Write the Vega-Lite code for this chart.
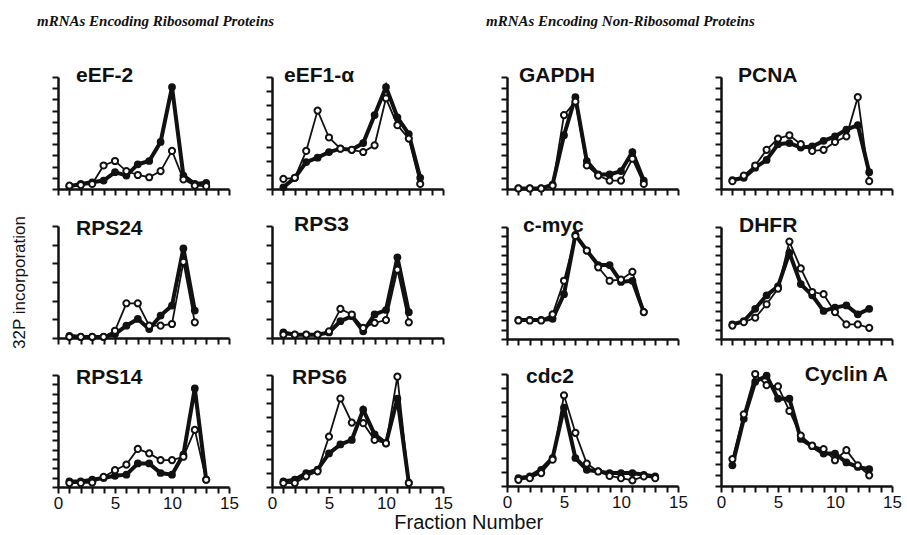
{
  "$schema": "https://vega.github.io/schema/vega-lite/v6.json",
  "padding": {"left": 9, "top": 14, "right": 0, "bottom": 0},
  "background": "white",
  "title": {"text": "Fraction Number", "orient": "bottom", "anchor": "middle", "frame": "bounds", "baseline": "top", "font": "Liberation Sans", "fontSize": 20, "fontWeight": "normal", "fontStyle": "normal", "color": "#111", "offset": 2, "dx": 13},
  "datasets": {
    "d": [
      {"gene":"eEF-2","fraction":1,"filled":0.25,"open":0.3},
      {"gene":"eEF-2","fraction":2,"filled":0.45,"open":0.35},
      {"gene":"eEF-2","fraction":3,"filled":0.6,"open":0.45},
      {"gene":"eEF-2","fraction":4,"filled":0.75,"open":2.1},
      {"gene":"eEF-2","fraction":5,"filled":1.5,"open":2.5},
      {"gene":"eEF-2","fraction":6,"filled":1.2,"open":1.6},
      {"gene":"eEF-2","fraction":7,"filled":2.2,"open":1.25},
      {"gene":"eEF-2","fraction":8,"filled":2.5,"open":1.05},
      {"gene":"eEF-2","fraction":9,"filled":4.2,"open":1.6},
      {"gene":"eEF-2","fraction":10,"filled":9.1,"open":3.4},
      {"gene":"eEF-2","fraction":11,"filled":1.2,"open":0.85},
      {"gene":"eEF-2","fraction":12,"filled":0.45,"open":0.3},
      {"gene":"eEF-2","fraction":13,"filled":0.55,"open":0.25},

      {"gene":"eEF1-α","fraction":1,"filled":0.15,"open":0.9},
      {"gene":"eEF1-α","fraction":2,"filled":1.0,"open":1.0},
      {"gene":"eEF1-α","fraction":3,"filled":2.4,"open":3.4},
      {"gene":"eEF1-α","fraction":4,"filled":2.8,"open":7.0},
      {"gene":"eEF1-α","fraction":5,"filled":3.3,"open":4.6},
      {"gene":"eEF1-α","fraction":6,"filled":3.6,"open":3.6},
      {"gene":"eEF1-α","fraction":7,"filled":3.5,"open":3.5},
      {"gene":"eEF1-α","fraction":8,"filled":4.1,"open":3.3},
      {"gene":"eEF1-α","fraction":9,"filled":6.6,"open":3.9},
      {"gene":"eEF1-α","fraction":10,"filled":9.1,"open":8.1},
      {"gene":"eEF1-α","fraction":11,"filled":6.4,"open":5.7},
      {"gene":"eEF1-α","fraction":12,"filled":4.9,"open":4.5},
      {"gene":"eEF1-α","fraction":13,"filled":1.0,"open":0.45},

      {"gene":"RPS24","fraction":1,"filled":0.2,"open":0.1},
      {"gene":"RPS24","fraction":2,"filled":0.1,"open":0.1},
      {"gene":"RPS24","fraction":3,"filled":0.1,"open":0.1},
      {"gene":"RPS24","fraction":4,"filled":0.1,"open":0.1},
      {"gene":"RPS24","fraction":5,"filled":0.35,"open":0.65},
      {"gene":"RPS24","fraction":6,"filled":1.1,"open":3.1},
      {"gene":"RPS24","fraction":7,"filled":1.7,"open":3.1},
      {"gene":"RPS24","fraction":8,"filled":0.8,"open":1.1},
      {"gene":"RPS24","fraction":9,"filled":2.0,"open":1.1},
      {"gene":"RPS24","fraction":10,"filled":2.9,"open":1.25},
      {"gene":"RPS24","fraction":11,"filled":8.0,"open":6.8},
      {"gene":"RPS24","fraction":12,"filled":2.45,"open":1.4},

      {"gene":"RPS3","fraction":1,"filled":0.5,"open":0.3},
      {"gene":"RPS3","fraction":2,"filled":0.3,"open":0.3},
      {"gene":"RPS3","fraction":3,"filled":0.3,"open":0.3},
      {"gene":"RPS3","fraction":4,"filled":0.3,"open":0.3},
      {"gene":"RPS3","fraction":5,"filled":0.5,"open":0.6},
      {"gene":"RPS3","fraction":6,"filled":1.5,"open":2.6},
      {"gene":"RPS3","fraction":7,"filled":1.95,"open":2.1},
      {"gene":"RPS3","fraction":8,"filled":0.6,"open":0.9},
      {"gene":"RPS3","fraction":9,"filled":2.1,"open":1.35},
      {"gene":"RPS3","fraction":10,"filled":2.5,"open":1.6},
      {"gene":"RPS3","fraction":11,"filled":7.2,"open":6.1},
      {"gene":"RPS3","fraction":12,"filled":2.3,"open":1.4},

      {"gene":"RPS14","fraction":1,"filled":0.5,"open":0.35},
      {"gene":"RPS14","fraction":2,"filled":0.5,"open":0.35},
      {"gene":"RPS14","fraction":3,"filled":0.65,"open":0.4},
      {"gene":"RPS14","fraction":4,"filled":0.8,"open":0.9},
      {"gene":"RPS14","fraction":5,"filled":1.0,"open":1.5},
      {"gene":"RPS14","fraction":6,"filled":1.1,"open":2.0},
      {"gene":"RPS14","fraction":7,"filled":2.1,"open":3.4},
      {"gene":"RPS14","fraction":8,"filled":2.1,"open":3.0},
      {"gene":"RPS14","fraction":9,"filled":1.25,"open":2.4},
      {"gene":"RPS14","fraction":10,"filled":1.1,"open":2.4},
      {"gene":"RPS14","fraction":11,"filled":2.9,"open":2.7},
      {"gene":"RPS14","fraction":12,"filled":8.8,"open":5.1},
      {"gene":"RPS14","fraction":13,"filled":0.65,"open":0.65},

      {"gene":"RPS6","fraction":1,"filled":0.5,"open":0.35},
      {"gene":"RPS6","fraction":2,"filled":0.65,"open":0.35},
      {"gene":"RPS6","fraction":3,"filled":1.25,"open":0.95},
      {"gene":"RPS6","fraction":4,"filled":1.55,"open":1.4},
      {"gene":"RPS6","fraction":5,"filled":3.0,"open":4.5},
      {"gene":"RPS6","fraction":6,"filled":3.8,"open":7.9},
      {"gene":"RPS6","fraction":7,"filled":4.2,"open":5.75},
      {"gene":"RPS6","fraction":8,"filled":6.9,"open":5.7},
      {"gene":"RPS6","fraction":9,"filled":4.7,"open":4.2},
      {"gene":"RPS6","fraction":10,"filled":3.9,"open":3.9},
      {"gene":"RPS6","fraction":11,"filled":7.9,"open":9.85},
      {"gene":"RPS6","fraction":12,"filled":0.4,"open":0.35},

      {"gene":"GAPDH","fraction":1,"filled":0.05,"open":0.05},
      {"gene":"GAPDH","fraction":2,"filled":0.05,"open":0.05},
      {"gene":"GAPDH","fraction":3,"filled":0.05,"open":0.05},
      {"gene":"GAPDH","fraction":4,"filled":0.4,"open":0.3},
      {"gene":"GAPDH","fraction":5,"filled":4.8,"open":6.6},
      {"gene":"GAPDH","fraction":6,"filled":8.2,"open":7.8},
      {"gene":"GAPDH","fraction":7,"filled":2.5,"open":2.1},
      {"gene":"GAPDH","fraction":8,"filled":1.3,"open":1.2},
      {"gene":"GAPDH","fraction":9,"filled":1.3,"open":0.75},
      {"gene":"GAPDH","fraction":10,"filled":1.6,"open":0.75},
      {"gene":"GAPDH","fraction":11,"filled":3.3,"open":2.7},
      {"gene":"GAPDH","fraction":12,"filled":0.75,"open":0.45},

      {"gene":"PCNA","fraction":1,"filled":0.8,"open":0.7},
      {"gene":"PCNA","fraction":2,"filled":1.0,"open":1.2},
      {"gene":"PCNA","fraction":3,"filled":1.9,"open":2.1},
      {"gene":"PCNA","fraction":4,"filled":2.6,"open":3.5},
      {"gene":"PCNA","fraction":5,"filled":4.0,"open":4.5},
      {"gene":"PCNA","fraction":6,"filled":4.1,"open":4.8},
      {"gene":"PCNA","fraction":7,"filled":3.7,"open":4.0},
      {"gene":"PCNA","fraction":8,"filled":3.8,"open":3.4},
      {"gene":"PCNA","fraction":9,"filled":4.3,"open":3.5},
      {"gene":"PCNA","fraction":10,"filled":4.7,"open":4.2},
      {"gene":"PCNA","fraction":11,"filled":5.3,"open":4.7},
      {"gene":"PCNA","fraction":12,"filled":5.7,"open":8.2},
      {"gene":"PCNA","fraction":13,"filled":1.5,"open":0.7},

      {"gene":"c-myc","fraction":1,"filled":1.7,"open":1.65},
      {"gene":"c-myc","fraction":2,"filled":1.7,"open":1.65},
      {"gene":"c-myc","fraction":3,"filled":1.7,"open":1.65},
      {"gene":"c-myc","fraction":4,"filled":1.8,"open":2.2},
      {"gene":"c-myc","fraction":5,"filled":4.0,"open":5.2},
      {"gene":"c-myc","fraction":6,"filled":9.3,"open":9.2},
      {"gene":"c-myc","fraction":7,"filled":7.9,"open":7.9},
      {"gene":"c-myc","fraction":8,"filled":6.6,"open":6.4},
      {"gene":"c-myc","fraction":9,"filled":6.6,"open":5.2},
      {"gene":"c-myc","fraction":10,"filled":5.1,"open":5.3},
      {"gene":"c-myc","fraction":11,"filled":5.2,"open":6.0},
      {"gene":"c-myc","fraction":12,"filled":2.4,"open":2.4},

      {"gene":"DHFR","fraction":1,"filled":1.3,"open":1.2},
      {"gene":"DHFR","fraction":2,"filled":1.6,"open":1.5},
      {"gene":"DHFR","fraction":3,"filled":2.7,"open":1.9},
      {"gene":"DHFR","fraction":4,"filled":3.9,"open":3.1},
      {"gene":"DHFR","fraction":5,"filled":4.7,"open":4.5},
      {"gene":"DHFR","fraction":6,"filled":7.7,"open":8.7},
      {"gene":"DHFR","fraction":7,"filled":4.9,"open":6.3},
      {"gene":"DHFR","fraction":8,"filled":3.9,"open":4.2},
      {"gene":"DHFR","fraction":9,"filled":2.5,"open":4.0},
      {"gene":"DHFR","fraction":10,"filled":2.8,"open":2.4},
      {"gene":"DHFR","fraction":11,"filled":3.0,"open":1.3},
      {"gene":"DHFR","fraction":12,"filled":2.2,"open":1.3},
      {"gene":"DHFR","fraction":13,"filled":2.7,"open":1.0},

      {"gene":"cdc2","fraction":1,"filled":0.7,"open":0.55},
      {"gene":"cdc2","fraction":2,"filled":0.85,"open":0.7},
      {"gene":"cdc2","fraction":3,"filled":1.45,"open":1.15},
      {"gene":"cdc2","fraction":4,"filled":2.5,"open":2.35},
      {"gene":"cdc2","fraction":5,"filled":7.0,"open":8.1},
      {"gene":"cdc2","fraction":6,"filled":2.5,"open":4.75},
      {"gene":"cdc2","fraction":7,"filled":1.45,"open":2.0},
      {"gene":"cdc2","fraction":8,"filled":1.3,"open":1.3},
      {"gene":"cdc2","fraction":9,"filled":1.15,"open":0.9},
      {"gene":"cdc2","fraction":10,"filled":1.15,"open":0.7},
      {"gene":"cdc2","fraction":11,"filled":1.15,"open":0.5},
      {"gene":"cdc2","fraction":12,"filled":1.0,"open":0.85},
      {"gene":"cdc2","fraction":13,"filled":0.85,"open":0.7},

      {"gene":"Cyclin A","fraction":1,"filled":1.85,"open":2.4},
      {"gene":"Cyclin A","fraction":2,"filled":6.0,"open":6.4},
      {"gene":"Cyclin A","fraction":3,"filled":9.3,"open":10.0},
      {"gene":"Cyclin A","fraction":4,"filled":9.85,"open":9.0},
      {"gene":"Cyclin A","fraction":5,"filled":7.8,"open":8.9},
      {"gene":"Cyclin A","fraction":6,"filled":7.8,"open":6.7},
      {"gene":"Cyclin A","fraction":7,"filled":4.2,"open":4.5},
      {"gene":"Cyclin A","fraction":8,"filled":3.55,"open":3.6},
      {"gene":"Cyclin A","fraction":9,"filled":2.9,"open":3.3},
      {"gene":"Cyclin A","fraction":10,"filled":2.9,"open":2.3},
      {"gene":"Cyclin A","fraction":11,"filled":2.1,"open":3.2},
      {"gene":"Cyclin A","fraction":12,"filled":1.7,"open":1.85},
      {"gene":"Cyclin A","fraction":13,"filled":1.5,"open":0.95}
    ]
  },
  "spacing": 33,
  "hconcat": [
    {
      "title": {"text": "mRNAs Encoding Ribosomal Proteins", "orient": "top", "anchor": "start", "frame": "bounds", "baseline": "bottom", "font": "Liberation Serif", "fontStyle": "italic", "fontWeight": "bold", "fontSize": 15, "dx": 27, "offset": 21},
      "columns": 2,
      "spacing": {"row": 18, "column": 26},
      "concat": [
        {
          "width": 171, "height": 112,
          "title": {"text": "eEF-2", "dx": 18},
          "data": {"name": "d"},
          "transform": [{"filter": "datum.gene === 'eEF-2'"}, {"fold": ["filled", "open"], "as": ["series", "value"]}],
          "encoding": {
            "x": {"field": "fraction", "type": "quantitative", "scale": {"domain": [0, 15]}, "axis": {"title": null, "labels": false}},
            "y": {"field": "value", "type": "quantitative", "scale": {"domain": [0, 10]}, "axis": {"title": null, "labels": false, "values": [0,1,2,3,4,5,6,7,8,9,10]}}
          },
          "layer": [
            {"transform": [{"filter": "datum.series === 'filled'"}], "mark": {"type": "line", "strokeWidth": 4, "color": "#111"}},
            {"transform": [{"filter": "datum.series === 'filled'"}], "mark": {"type": "point", "filled": true, "size": 60, "color": "#111", "opacity": 1}},
            {"transform": [{"filter": "datum.series === 'open'"}], "mark": {"type": "line", "strokeWidth": 1.8, "color": "#111"}},
            {"transform": [{"filter": "datum.series === 'open'"}], "mark": {"type": "point", "filled": true, "fill": "white", "stroke": "#111", "strokeWidth": 2, "size": 38, "opacity": 1}}
          ]
        },
        {
          "width": 171, "height": 112,
          "title": {"text": "eEF1-α", "dx": 12},
          "data": {"name": "d"},
          "transform": [{"filter": "datum.gene === 'eEF1-α'"}, {"fold": ["filled", "open"], "as": ["series", "value"]}],
          "encoding": {
            "x": {"field": "fraction", "type": "quantitative", "scale": {"domain": [0, 15]}, "axis": {"title": null, "labels": false}},
            "y": {"field": "value", "type": "quantitative", "scale": {"domain": [0, 10]}, "axis": {"title": null, "labels": false, "values": [0,1.25,2.5,3.75,5,6.25,7.5,8.75,10]}}
          },
          "layer": [
            {"transform": [{"filter": "datum.series === 'filled'"}], "mark": {"type": "line", "strokeWidth": 4, "color": "#111"}},
            {"transform": [{"filter": "datum.series === 'filled'"}], "mark": {"type": "point", "filled": true, "size": 60, "color": "#111", "opacity": 1}},
            {"transform": [{"filter": "datum.series === 'open'"}], "mark": {"type": "line", "strokeWidth": 1.8, "color": "#111"}},
            {"transform": [{"filter": "datum.series === 'open'"}], "mark": {"type": "point", "filled": true, "fill": "white", "stroke": "#111", "strokeWidth": 2, "size": 38, "opacity": 1}}
          ]
        },
        {
          "width": 171, "height": 112,
          "title": {"text": "RPS24", "dx": 18},
          "data": {"name": "d"},
          "transform": [{"filter": "datum.gene === 'RPS24'"}, {"fold": ["filled", "open"], "as": ["series", "value"]}],
          "encoding": {
            "x": {"field": "fraction", "type": "quantitative", "scale": {"domain": [0, 15]}, "axis": {"title": null, "labels": false}},
            "y": {"field": "value", "type": "quantitative", "scale": {"domain": [0, 10]}, "axis": {"title": "32P incorporation", "titlePadding": 23, "titleFontSize": 17, "titleColor": "#111", "labels": false, "values": [0,1.667,3.333,5,6.667,8.333,10]}}
          },
          "layer": [
            {"transform": [{"filter": "datum.series === 'filled'"}], "mark": {"type": "line", "strokeWidth": 4, "color": "#111"}},
            {"transform": [{"filter": "datum.series === 'filled'"}], "mark": {"type": "point", "filled": true, "size": 60, "color": "#111", "opacity": 1}},
            {"transform": [{"filter": "datum.series === 'open'"}], "mark": {"type": "line", "strokeWidth": 1.8, "color": "#111"}},
            {"transform": [{"filter": "datum.series === 'open'"}], "mark": {"type": "point", "filled": true, "fill": "white", "stroke": "#111", "strokeWidth": 2, "size": 38, "opacity": 1}}
          ]
        },
        {
          "width": 171, "height": 112,
          "title": {"text": "RPS3", "dx": 22},
          "data": {"name": "d"},
          "transform": [{"filter": "datum.gene === 'RPS3'"}, {"fold": ["filled", "open"], "as": ["series", "value"]}],
          "encoding": {
            "x": {"field": "fraction", "type": "quantitative", "scale": {"domain": [0, 15]}, "axis": {"title": null, "labels": false}},
            "y": {"field": "value", "type": "quantitative", "scale": {"domain": [0, 10]}, "axis": {"title": null, "labels": false, "values": [0,1.667,3.333,5,6.667,8.333,10]}}
          },
          "layer": [
            {"transform": [{"filter": "datum.series === 'filled'"}], "mark": {"type": "line", "strokeWidth": 4, "color": "#111"}},
            {"transform": [{"filter": "datum.series === 'filled'"}], "mark": {"type": "point", "filled": true, "size": 60, "color": "#111", "opacity": 1}},
            {"transform": [{"filter": "datum.series === 'open'"}], "mark": {"type": "line", "strokeWidth": 1.8, "color": "#111"}},
            {"transform": [{"filter": "datum.series === 'open'"}], "mark": {"type": "point", "filled": true, "fill": "white", "stroke": "#111", "strokeWidth": 2, "size": 38, "opacity": 1}}
          ]
        },
        {
          "width": 171, "height": 112,
          "title": {"text": "RPS14", "dx": 18, "offset": -144},
          "data": {"name": "d"},
          "transform": [{"filter": "datum.gene === 'RPS14'"}, {"fold": ["filled", "open"], "as": ["series", "value"]}],
          "encoding": {
            "x": {"field": "fraction", "type": "quantitative", "scale": {"domain": [0, 15]}, "axis": {"title": null, "labelExpr": "datum.value % 5 === 0 ? datum.label : ''"}},
            "y": {"field": "value", "type": "quantitative", "scale": {"domain": [0, 10]}, "axis": {"title": null, "labels": false, "values": [0,0.833,1.667,2.5,3.333,4.167,5,5.833,6.667,7.5,8.333,9.167,10]}}
          },
          "layer": [
            {"transform": [{"filter": "datum.series === 'filled'"}], "mark": {"type": "line", "strokeWidth": 4, "color": "#111"}},
            {"transform": [{"filter": "datum.series === 'filled'"}], "mark": {"type": "point", "filled": true, "size": 60, "color": "#111", "opacity": 1}},
            {"transform": [{"filter": "datum.series === 'open'"}], "mark": {"type": "line", "strokeWidth": 1.8, "color": "#111"}},
            {"transform": [{"filter": "datum.series === 'open'"}], "mark": {"type": "point", "filled": true, "fill": "white", "stroke": "#111", "strokeWidth": 2, "size": 38, "opacity": 1}}
          ]
        },
        {
          "width": 171, "height": 112,
          "title": {"text": "RPS6", "dx": 20, "offset": -144},
          "data": {"name": "d"},
          "transform": [{"filter": "datum.gene === 'RPS6'"}, {"fold": ["filled", "open"], "as": ["series", "value"]}],
          "encoding": {
            "x": {"field": "fraction", "type": "quantitative", "scale": {"domain": [0, 15]}, "axis": {"title": null, "labelExpr": "datum.value % 5 === 0 ? datum.label : ''"}},
            "y": {"field": "value", "type": "quantitative", "scale": {"domain": [0, 10]}, "axis": {"title": null, "labels": false, "values": [0,1.25,2.5,3.75,5,6.25,7.5,8.75,10]}}
          },
          "layer": [
            {"transform": [{"filter": "datum.series === 'filled'"}], "mark": {"type": "line", "strokeWidth": 4, "color": "#111"}},
            {"transform": [{"filter": "datum.series === 'filled'"}], "mark": {"type": "point", "filled": true, "size": 60, "color": "#111", "opacity": 1}},
            {"transform": [{"filter": "datum.series === 'open'"}], "mark": {"type": "line", "strokeWidth": 1.8, "color": "#111"}},
            {"transform": [{"filter": "datum.series === 'open'"}], "mark": {"type": "point", "filled": true, "fill": "white", "stroke": "#111", "strokeWidth": 2, "size": 38, "opacity": 1}}
          ]
        }
      ]
    },
    {
      "title": {"text": "mRNAs Encoding Non-Ribosomal Proteins", "orient": "top", "anchor": "start", "frame": "bounds", "baseline": "bottom", "font": "Liberation Serif", "fontStyle": "italic", "fontWeight": "bold", "fontSize": 15, "dx": -14, "offset": 21},
      "columns": 2,
      "spacing": {"row": 18, "column": 26},
      "concat": [
        {
          "width": 171, "height": 112,
          "title": {"text": "GAPDH", "dx": 12},
          "data": {"name": "d"},
          "transform": [{"filter": "datum.gene === 'GAPDH'"}, {"fold": ["filled", "open"], "as": ["series", "value"]}],
          "encoding": {
            "x": {"field": "fraction", "type": "quantitative", "scale": {"domain": [0, 15]}, "axis": {"title": null, "labels": false}},
            "y": {"field": "value", "type": "quantitative", "scale": {"domain": [0, 10]}, "axis": {"title": null, "labels": false, "values": [0,1,2,3,4,5,6,7,8,9,10]}}
          },
          "layer": [
            {"transform": [{"filter": "datum.series === 'filled'"}], "mark": {"type": "line", "strokeWidth": 4, "color": "#111"}},
            {"transform": [{"filter": "datum.series === 'filled'"}], "mark": {"type": "point", "filled": true, "size": 60, "color": "#111", "opacity": 1}},
            {"transform": [{"filter": "datum.series === 'open'"}], "mark": {"type": "line", "strokeWidth": 1.8, "color": "#111"}},
            {"transform": [{"filter": "datum.series === 'open'"}], "mark": {"type": "point", "filled": true, "fill": "white", "stroke": "#111", "strokeWidth": 2, "size": 38, "opacity": 1}}
          ]
        },
        {
          "width": 171, "height": 112,
          "title": {"text": "PCNA", "dx": 17},
          "data": {"name": "d"},
          "transform": [{"filter": "datum.gene === 'PCNA'"}, {"fold": ["filled", "open"], "as": ["series", "value"]}],
          "encoding": {
            "x": {"field": "fraction", "type": "quantitative", "scale": {"domain": [0, 15]}, "axis": {"title": null, "labels": false}},
            "y": {"field": "value", "type": "quantitative", "scale": {"domain": [0, 10]}, "axis": {"title": null, "labels": false, "values": [0,1,2,3,4,5,6,7,8,9,10]}}
          },
          "layer": [
            {"transform": [{"filter": "datum.series === 'filled'"}], "mark": {"type": "line", "strokeWidth": 4, "color": "#111"}},
            {"transform": [{"filter": "datum.series === 'filled'"}], "mark": {"type": "point", "filled": true, "size": 60, "color": "#111", "opacity": 1}},
            {"transform": [{"filter": "datum.series === 'open'"}], "mark": {"type": "line", "strokeWidth": 1.8, "color": "#111"}},
            {"transform": [{"filter": "datum.series === 'open'"}], "mark": {"type": "point", "filled": true, "fill": "white", "stroke": "#111", "strokeWidth": 2, "size": 38, "opacity": 1}}
          ]
        },
        {
          "width": 171, "height": 112,
          "title": {"text": "c-myc", "dx": 16},
          "data": {"name": "d"},
          "transform": [{"filter": "datum.gene === 'c-myc'"}, {"fold": ["filled", "open"], "as": ["series", "value"]}],
          "encoding": {
            "x": {"field": "fraction", "type": "quantitative", "scale": {"domain": [0, 15]}, "axis": {"title": null, "labels": false}},
            "y": {"field": "value", "type": "quantitative", "scale": {"domain": [0, 10]}, "axis": {"title": null, "labels": false, "values": [0,0.833,1.667,2.5,3.333,4.167,5,5.833,6.667,7.5,8.333,9.167,10]}}
          },
          "layer": [
            {"transform": [{"filter": "datum.series === 'filled'"}], "mark": {"type": "line", "strokeWidth": 4, "color": "#111"}},
            {"transform": [{"filter": "datum.series === 'filled'"}], "mark": {"type": "point", "filled": true, "size": 60, "color": "#111", "opacity": 1}},
            {"transform": [{"filter": "datum.series === 'open'"}], "mark": {"type": "line", "strokeWidth": 1.8, "color": "#111"}},
            {"transform": [{"filter": "datum.series === 'open'"}], "mark": {"type": "point", "filled": true, "fill": "white", "stroke": "#111", "strokeWidth": 2, "size": 38, "opacity": 1}}
          ]
        },
        {
          "width": 171, "height": 112,
          "title": {"text": "DHFR", "dx": 18},
          "data": {"name": "d"},
          "transform": [{"filter": "datum.gene === 'DHFR'"}, {"fold": ["filled", "open"], "as": ["series", "value"]}],
          "encoding": {
            "x": {"field": "fraction", "type": "quantitative", "scale": {"domain": [0, 15]}, "axis": {"title": null, "labels": false}},
            "y": {"field": "value", "type": "quantitative", "scale": {"domain": [0, 10]}, "axis": {"title": null, "labels": false, "values": [0,0.833,1.667,2.5,3.333,4.167,5,5.833,6.667,7.5,8.333,9.167,10]}}
          },
          "layer": [
            {"transform": [{"filter": "datum.series === 'filled'"}], "mark": {"type": "line", "strokeWidth": 4, "color": "#111"}},
            {"transform": [{"filter": "datum.series === 'filled'"}], "mark": {"type": "point", "filled": true, "size": 60, "color": "#111", "opacity": 1}},
            {"transform": [{"filter": "datum.series === 'open'"}], "mark": {"type": "line", "strokeWidth": 1.8, "color": "#111"}},
            {"transform": [{"filter": "datum.series === 'open'"}], "mark": {"type": "point", "filled": true, "fill": "white", "stroke": "#111", "strokeWidth": 2, "size": 38, "opacity": 1}}
          ]
        },
        {
          "width": 171, "height": 112,
          "title": {"text": "cdc2", "dx": 19, "offset": -144},
          "data": {"name": "d"},
          "transform": [{"filter": "datum.gene === 'cdc2'"}, {"fold": ["filled", "open"], "as": ["series", "value"]}],
          "encoding": {
            "x": {"field": "fraction", "type": "quantitative", "scale": {"domain": [0, 15]}, "axis": {"title": null, "labelExpr": "datum.value % 5 === 0 ? datum.label : ''"}},
            "y": {"field": "value", "type": "quantitative", "scale": {"domain": [0, 10]}, "axis": {"title": null, "labels": false, "values": [0,1.25,2.5,3.75,5,6.25,7.5,8.75,10]}}
          },
          "layer": [
            {"transform": [{"filter": "datum.series === 'filled'"}], "mark": {"type": "line", "strokeWidth": 4, "color": "#111"}},
            {"transform": [{"filter": "datum.series === 'filled'"}], "mark": {"type": "point", "filled": true, "size": 60, "color": "#111", "opacity": 1}},
            {"transform": [{"filter": "datum.series === 'open'"}], "mark": {"type": "line", "strokeWidth": 1.8, "color": "#111"}},
            {"transform": [{"filter": "datum.series === 'open'"}], "mark": {"type": "point", "filled": true, "fill": "white", "stroke": "#111", "strokeWidth": 2, "size": 38, "opacity": 1}}
          ]
        },
        {
          "width": 171, "height": 112,
          "title": {"text": "Cyclin A", "anchor": "end", "dx": -4, "offset": -146},
          "data": {"name": "d"},
          "transform": [{"filter": "datum.gene === 'Cyclin A'"}, {"fold": ["filled", "open"], "as": ["series", "value"]}],
          "encoding": {
            "x": {"field": "fraction", "type": "quantitative", "scale": {"domain": [0, 15]}, "axis": {"title": null, "labelExpr": "datum.value % 5 === 0 ? datum.label : ''"}},
            "y": {"field": "value", "type": "quantitative", "scale": {"domain": [0, 10]}, "axis": {"title": null, "labels": false, "values": [0,1,2,3,4,5,6,7,8,9,10]}}
          },
          "layer": [
            {"transform": [{"filter": "datum.series === 'filled'"}], "mark": {"type": "line", "strokeWidth": 4, "color": "#111"}},
            {"transform": [{"filter": "datum.series === 'filled'"}], "mark": {"type": "point", "filled": true, "size": 60, "color": "#111", "opacity": 1}},
            {"transform": [{"filter": "datum.series === 'open'"}], "mark": {"type": "line", "strokeWidth": 1.8, "color": "#111"}},
            {"transform": [{"filter": "datum.series === 'open'"}], "mark": {"type": "point", "filled": true, "fill": "white", "stroke": "#111", "strokeWidth": 2, "size": 38, "opacity": 1}}
          ]
        }
      ]
    }
  ],
  "config": {
    "view": {"stroke": null},
    "title": {"font": "Liberation Sans", "fontWeight": "bold", "fontSize": 21, "color": "#111", "anchor": "start", "frame": "group", "baseline": "alphabetic", "orient": "bottom", "offset": -131},
    "axis": {
      "grid": false,
      "domainColor": "#111", "tickColor": "#111",
      "domainWidth": 2.5, "tickWidth": 2, "tickSize": 6,
      "labelFont": "Liberation Sans", "labelFontSize": 17, "labelColor": "#111",
      "labelFlush": false, "labelPadding": 2,
      "titleFont": "Liberation Sans", "titleFontWeight": "normal", "titleFontSize": 16, "titleColor": "#111"
    },
    "axisX": {"tickCount": 15}
  }
}
